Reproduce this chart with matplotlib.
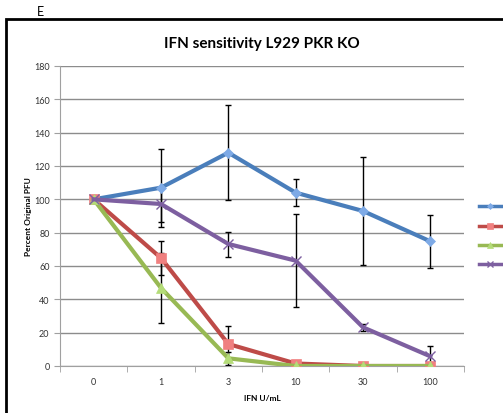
import numpy as np
import matplotlib.pyplot as plt
import matplotlib as mpl

plt.rcParams['font.family'] = ['Lato', 'DejaVu Sans']

# data
doses = ['0', '1', '3', '10', '30', '100']
series_names = ['WR', 'WR-2', 'WR-3', 'MVA']
blue_vals = [100, 107, 128, 104, 93, 74.8]
blue_err = [0, 23.5, 28.5, 8, 32.4, 16]
red_vals = [100, 64.8, 13.2, 1.5, 0, 0]
red_err = [0, 10, 10.6, 0.5, 0, 0]
green_vals = [100, 46.8, 4.6, 0, 0, 0]
green_err = [0, 21, 4, 0, 0, 0]
purple_vals = [100, 97.2, 73.2, 63.2, 23.2, 5.8]
purple_err = [0, 10.5, 7.5, 28, 2, 6]

W, H = 503, 414
fig = plt.figure(figsize=(W / 100, H / 100), dpi=100)

# outer chart frame (extends past right/bottom edge like the crop)
frame = mpl.patches.Rectangle((6 / W, -0.05), 1.1, (H - 20) / H + 0.05,
                              transform=fig.transFigure, fill=False,
                              edgecolor='black', linewidth=2.0)
fig.add_artist(frame)
fig.text(40 / W, 1 - 12 / H, 'E', fontsize=9, ha='center', va='center')

ax = fig.add_axes([60 / W, 1 - 367 / H, 404 / W, 300 / H])
x = np.arange(len(doses)) + 0.5

styles = [
    (blue_vals, blue_err, '#4a7ebb', 'D', '#7eaae6', 5.5),
    (red_vals, red_err, '#be4b48', 's', '#f08080', 7),
    (green_vals, green_err, '#98b954', '^', '#b4dc78', 7),
    (purple_vals, purple_err, '#7d5fa0', 'x', '#7d5fa0', 7),
]
handles = []
for name, (vals, err, col, mk, mfc, ms) in zip(series_names, styles):
    ax.errorbar(x, vals, yerr=err, fmt='none', ecolor='black',
                elinewidth=1.0, capsize=2.5, capthick=1.0, zorder=2)
    h, = ax.plot(x, vals, color=col, linewidth=3, marker=mk, markersize=ms,
                 markerfacecolor=mfc, markeredgecolor=col if mk == 'x' else mfc,
                 markeredgewidth=1 if mk == 'x' else 0.5, label=name, zorder=3)
    handles.append(h)

ax.set_xlim(0, 6)
ax.set_ylim(0, 180)
ax.set_yticks(np.arange(0, 181, 20))
ax.set_xticks(x)
ax.set_xticklabels(doses)
ax.set_xticks(np.arange(0, 7), minor=True)
ax.tick_params(axis='x', which='major', length=0, labelsize=6.5, pad=8, colors='#333333')
ax.tick_params(axis='x', which='minor', length=4, color='#a0a0a0', direction='out')
ax.tick_params(axis='y', length=4, color='#a0a0a0', labelsize=6.5, colors='#333333')
ax.grid(axis='y', color='#8c8c8c', linewidth=1.0)
ax.set_axisbelow(True)
for s in ['top', 'right']:
    ax.spines[s].set_visible(False)
for s in ['left', 'bottom']:
    ax.spines[s].set_color('#a0a0a0')

ax.set_title('IFN sensitivity L929 PKR KO', fontsize=11, fontweight='bold', pad=14)
ax.set_ylabel('Percent Original PFU', fontsize=6, fontweight='bold', labelpad=1)
ax.set_xlabel('IFN U/mL', fontsize=6, fontweight='bold', labelpad=6)

leg = fig.legend(handles=handles, loc='upper left',
                 bbox_to_anchor=(475 / W, 1 - 200 / H), frameon=False,
                 fontsize=7, handlelength=2.3, handletextpad=0.2,
                 labelspacing=1.05, borderaxespad=0, markerscale=0.55)
for lh in leg.get_lines():
    lh.set_linewidth(2.5)

fig.savefig('out.png', dpi=100)
